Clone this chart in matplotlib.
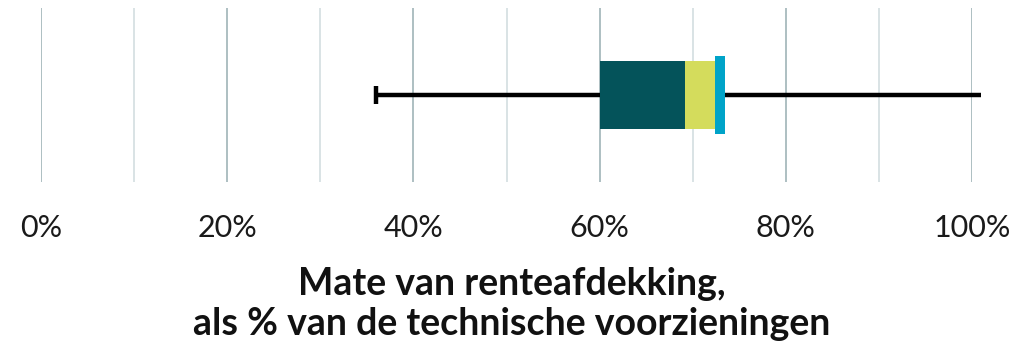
import matplotlib.pyplot as plt
from matplotlib.ticker import MultipleLocator, FuncFormatter

plt.rcParams['font.family'] = ['Lato', 'DejaVu Sans']

# interest rate hedge ratio, % of technical provisions
whisker_low = 36.0
whisker_high = 101.0
box_start = 60.0
box_split = 69.2
box_end = 72.4
marker_low = 72.4
marker_high = 73.5

dark_teal = '#04535A'
lime = '#D4DC5C'
cyan = '#00A3C8'

fig = plt.figure(figsize=(10.31, 3.45), dpi=100)
ax = fig.add_axes([41 / 1031, 1 - 182 / 345, (972 - 41) / 1031, 174 / 345])
ax.set_xlim(0, 100)
ax.set_ylim(0, 1)

# grid: darker every 20%, lighter at the 10% steps in between
for x in range(0, 101, 10):
    major = x % 20 == 0
    ax.axvline(x, color='#9fb4b8' if major else '#d3dee0', lw=1.2, zorder=0)

# whisker line and left cap
ax.plot([whisker_low, whisker_high], [0.5, 0.5], color='black', lw=3.2,
        solid_capstyle='butt', zorder=1, clip_on=False)
ax.plot([whisker_low, whisker_low], [0.45, 0.55], color='black', lw=3.2,
        solid_capstyle='butt', zorder=1)

# box segments
ax.barh(0.5, box_split - box_start, left=box_start, height=0.396,
        color=dark_teal, zorder=2)
ax.barh(0.5, box_end - box_split, left=box_split, height=0.396,
        color=lime, zorder=2)
ax.barh(0.5, marker_high - marker_low, left=marker_low, height=0.448,
        color=cyan, zorder=3)

for s in ax.spines.values():
    s.set_visible(False)
ax.set_yticks([])
ax.xaxis.set_major_locator(MultipleLocator(20))
ax.xaxis.set_major_formatter(FuncFormatter(lambda v, p: f'{v:.0f}%'))
ax.tick_params(axis='x', length=0, pad=23, labelsize=22, labelcolor='#1a1a1a')
ax.set_xlim(0, 100)

fig.text(0.4966, 1 - 304 / 345, 'Mate van renteafdekking,\nals % van de technische voorzieningen',
         ha='center', va='center', fontsize=27, fontweight='bold',
         linespacing=1.2, color='#111111')

fig.savefig('out.png', dpi=100)
